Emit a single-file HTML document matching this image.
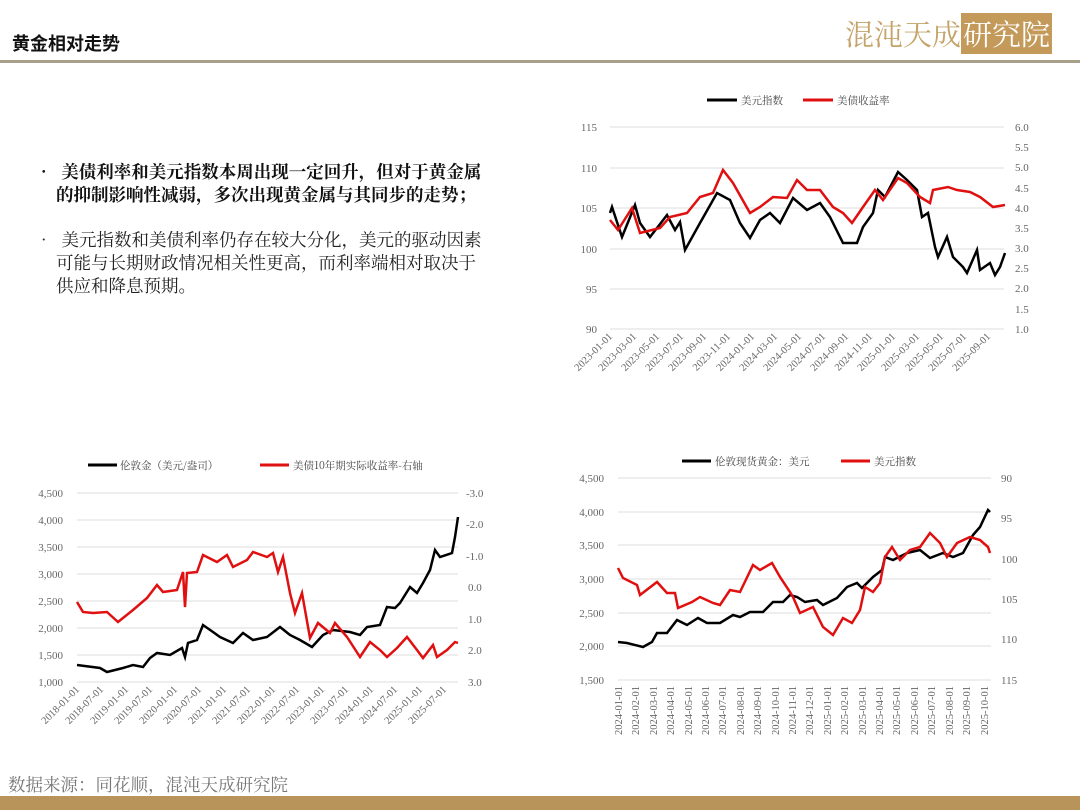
<!DOCTYPE html>
<html><head><meta charset="utf-8"><style>
body{margin:0;width:1080px;height:810px;background:#fff;position:relative;overflow:hidden;font-family:"Liberation Serif","Noto Serif CJK SC",serif;}
.t{position:absolute;white-space:nowrap}
</style></head><body>
<div class="t" style="left:12px;top:30px;font-size:18px;font-weight:bold;font-family:'Noto Sans CJK SC',sans-serif;color:#111">黄金相对走势</div>
<div class="t" style="left:845px;top:13px;font-size:29px;color:#c4a46a;letter-spacing:0px;font-family:'Noto Serif CJK SC',serif">混沌天成<span style="background:#c49a5a;color:#fff;padding:0 2px">研究院</span></div>
<div style="position:absolute;left:0;top:60px;width:1080px;height:3px;background:#a8a08a"></div>
<div class="t" style="left:35px;top:160px;font-size:17.5px;line-height:23px;color:#111;font-family:'Noto Serif CJK SC',serif;font-weight:bold">•&nbsp;&nbsp;美债利率和美元指数本周出现一定回升，但对于黄金属<br><span style="padding-left:21px">的抑制影响性减弱，多次出现黄金属与其同步的走势；</span></div>
<div class="t" style="left:35px;top:228px;font-size:17.5px;line-height:23px;color:#222;font-family:'Noto Serif CJK SC',serif">•&nbsp;&nbsp;美元指数和美债利率仍存在较大分化，美元的驱动因素<br><span style="padding-left:21px">可能与长期财政情况相关性更高，而利率端相对取决于</span><br><span style="padding-left:21px">供应和降息预期。</span></div>
<div class="t" style="left:8px;top:772px;font-size:17.5px;color:#777;font-family:'Noto Serif CJK SC',serif">数据来源：同花顺，混沌天成研究院</div>
<div style="position:absolute;left:0;top:796px;width:1080px;height:14px;background:#b8935a"></div>
<svg width="1080" height="810" style="position:absolute;left:0;top:0" font-family="Liberation Serif" font-size="11" fill="#666">
<!-- chart1 -->
<g stroke="#ddd"><line x1="610" x2="1004" y1="127" y2="127"/><line x1="610" x2="1004" y1="168" y2="168"/><line x1="610" x2="1004" y1="208" y2="208"/><line x1="610" x2="1004" y1="249" y2="249"/><line x1="610" x2="1004" y1="289" y2="289"/><line x1="610" x2="1004" y1="329" y2="329"/></g>
<g text-anchor="end"><text x="597" y="131">115</text><text x="597" y="172">110</text><text x="597" y="212">105</text><text x="597" y="253">100</text><text x="597" y="293">95</text><text x="597" y="333">90</text></g>
<g><text x="1015" y="131">6.0</text><text x="1015" y="151">5.5</text><text x="1015" y="171">5.0</text><text x="1015" y="192">4.5</text><text x="1015" y="212">4.0</text><text x="1015" y="232">3.5</text><text x="1015" y="252">3.0</text><text x="1015" y="272">2.5</text><text x="1015" y="292">2.0</text><text x="1015" y="313">1.5</text><text x="1015" y="333">1.0</text></g>
<g text-anchor="end" font-size="10.5">
<text transform="translate(613,337) rotate(-45)">2023-01-01</text><text transform="translate(637,337) rotate(-45)">2023-03-01</text><text transform="translate(660,337) rotate(-45)">2023-05-01</text><text transform="translate(684,337) rotate(-45)">2023-07-01</text><text transform="translate(707,337) rotate(-45)">2023-09-01</text><text transform="translate(731,337) rotate(-45)">2023-11-01</text><text transform="translate(755,337) rotate(-45)">2024-01-01</text><text transform="translate(778,337) rotate(-45)">2024-03-01</text><text transform="translate(802,337) rotate(-45)">2024-05-01</text><text transform="translate(826,337) rotate(-45)">2024-07-01</text><text transform="translate(849,337) rotate(-45)">2024-09-01</text><text transform="translate(873,337) rotate(-45)">2024-11-01</text><text transform="translate(896,337) rotate(-45)">2025-01-01</text><text transform="translate(920,337) rotate(-45)">2025-03-01</text><text transform="translate(944,337) rotate(-45)">2025-05-01</text><text transform="translate(967,337) rotate(-45)">2025-07-01</text><text transform="translate(991,337) rotate(-45)">2025-09-01</text></g>
<line x1="707" x2="737" y1="100" y2="100" stroke="#000" stroke-width="3"/><text x="741" y="104" font-family="Noto Serif CJK SC" font-size="10.5" fill="#444">美元指数</text>
<line x1="803" x2="833" y1="100" y2="100" stroke="#e01010" stroke-width="3"/><text x="837" y="104" font-family="Noto Serif CJK SC" font-size="10.5" fill="#444">美债收益率</text>
<polyline fill="none" stroke="#000" stroke-width="2.5" points="610,213 612,207 622,237 635,205 640,223 650,237 667,215 675,230 680,222 685,250 700,223 717,193 730,200 740,223 750,238 760,220 770,213 780,223 793,198 807,210 820,203 830,217 843,243 857,243 863,227 873,213 878,190 885,197 898,172 907,180 917,190 922,217 928,213 935,247 938,257 947,237 953,257 963,267 967,273 977,250 980,270 990,263 995,275 1000,267 1005,253"/>
<polyline fill="none" stroke="#e01010" stroke-width="2.5" points="610,220 618,230 632,208 640,233 660,228 670,217 687,213 700,197 713,193 723,170 733,183 750,213 760,207 773,197 787,198 797,180 807,190 820,190 833,207 843,213 852,223 863,207 875,190 883,200 898,178 907,183 920,197 930,203 933,190 948,187 957,190 970,192 980,197 993,207 1005,205"/>
<!-- chart2 -->
<g stroke="#ddd"><line x1="77" x2="458" y1="493" y2="493"/><line x1="77" x2="458" y1="520" y2="520"/><line x1="77" x2="458" y1="547" y2="547"/><line x1="77" x2="458" y1="574" y2="574"/><line x1="77" x2="458" y1="601" y2="601"/><line x1="77" x2="458" y1="628" y2="628"/><line x1="77" x2="458" y1="655" y2="655"/><line x1="77" x2="458" y1="682" y2="682"/></g>
<g text-anchor="end"><text x="63" y="497">4,500</text><text x="63" y="524">4,000</text><text x="63" y="551">3,500</text><text x="63" y="578">3,000</text><text x="63" y="605">2,500</text><text x="63" y="632">2,000</text><text x="63" y="659">1,500</text><text x="63" y="686">1,000</text></g>
<g><text x="466" y="497">-3.0</text><text x="466" y="528">-2.0</text><text x="466" y="560">-1.0</text><text x="468" y="591">0.0</text><text x="468" y="623">1.0</text><text x="468" y="654">2.0</text><text x="468" y="686">3.0</text></g>
<g text-anchor="end" font-size="10.5">
<text transform="translate(80,690) rotate(-45)">2018-01-01</text><text transform="translate(104,690) rotate(-45)">2018-07-01</text><text transform="translate(129,690) rotate(-45)">2019-01-01</text><text transform="translate(153,690) rotate(-45)">2019-07-01</text><text transform="translate(178,690) rotate(-45)">2020-01-01</text><text transform="translate(202,690) rotate(-45)">2020-07-01</text><text transform="translate(227,690) rotate(-45)">2021-01-01</text><text transform="translate(251,690) rotate(-45)">2021-07-01</text><text transform="translate(276,690) rotate(-45)">2022-01-01</text><text transform="translate(300,690) rotate(-45)">2022-07-01</text><text transform="translate(325,690) rotate(-45)">2023-01-01</text><text transform="translate(349,690) rotate(-45)">2023-07-01</text><text transform="translate(374,690) rotate(-45)">2024-01-01</text><text transform="translate(398,690) rotate(-45)">2024-07-01</text><text transform="translate(423,690) rotate(-45)">2025-01-01</text><text transform="translate(447,690) rotate(-45)">2025-07-01</text></g>
<line x1="88" x2="117" y1="465" y2="465" stroke="#000" stroke-width="3"/><text x="120" y="469" font-family="Noto Serif CJK SC" font-size="10.5" fill="#444">伦敦金（美元/盎司）</text>
<line x1="260" x2="289" y1="465" y2="465" stroke="#e01010" stroke-width="3"/><text x="293" y="469" font-family="Noto Serif CJK SC" font-size="10.5" fill="#444">美债10年期实际收益率-右轴</text>
<polyline fill="none" stroke="#000" stroke-width="2.5" points="77,665 100,668 107,672 123,668 133,665 143,667 150,658 157,653 170,655 182,648 185,657 188,643 197,640 203,625 213,632 220,637 233,643 243,633 253,640 267,637 280,627 290,635 300,640 312,647 323,635 333,630 350,632 360,635 367,627 380,625 387,607 395,608 400,603 410,587 417,593 423,583 430,570 435,550 440,557 452,553 455,537 458,517"/>
<polyline fill="none" stroke="#e01010" stroke-width="2.5" points="77,602 83,612 93,613 107,612 118,622 133,610 147,598 157,585 163,592 177,590 183,572 185,607 187,573 197,572 203,555 217,562 227,555 233,567 247,560 253,552 267,557 273,553 278,572 283,557 290,593 295,613 302,593 310,638 318,623 330,633 335,623 347,637 360,657 370,642 380,650 387,657 397,648 407,637 417,650 423,658 433,645 437,657 447,650 455,642 458,643"/>
<!-- chart3 -->
<g stroke="#ddd"><line x1="618" x2="991" y1="478" y2="478"/><line x1="618" x2="991" y1="512" y2="512"/><line x1="618" x2="991" y1="545" y2="545"/><line x1="618" x2="991" y1="579" y2="579"/><line x1="618" x2="991" y1="613" y2="613"/><line x1="618" x2="991" y1="646" y2="646"/><line x1="618" x2="991" y1="680" y2="680"/></g>
<g text-anchor="end"><text x="604" y="482">4,500</text><text x="604" y="516">4,000</text><text x="604" y="549">3,500</text><text x="604" y="583">3,000</text><text x="604" y="617">2,500</text><text x="604" y="650">2,000</text><text x="604" y="684">1,500</text></g>
<g><text x="1001" y="482">90</text><text x="1001" y="522">95</text><text x="1001" y="563">100</text><text x="1001" y="603">105</text><text x="1001" y="643">110</text><text x="1001" y="684">115</text></g>
<g text-anchor="end" font-size="10.5">
<text transform="translate(622,686) rotate(-90)">2024-01-01</text><text transform="translate(639,686) rotate(-90)">2024-02-01</text><text transform="translate(657,686) rotate(-90)">2024-03-01</text><text transform="translate(674,686) rotate(-90)">2024-04-01</text><text transform="translate(692,686) rotate(-90)">2024-05-01</text><text transform="translate(709,686) rotate(-90)">2024-06-01</text><text transform="translate(726,686) rotate(-90)">2024-07-01</text><text transform="translate(744,686) rotate(-90)">2024-08-01</text><text transform="translate(761,686) rotate(-90)">2024-09-01</text><text transform="translate(779,686) rotate(-90)">2024-10-01</text><text transform="translate(796,686) rotate(-90)">2024-11-01</text><text transform="translate(813,686) rotate(-90)">2024-12-01</text><text transform="translate(831,686) rotate(-90)">2025-01-01</text><text transform="translate(848,686) rotate(-90)">2025-02-01</text><text transform="translate(866,686) rotate(-90)">2025-03-01</text><text transform="translate(883,686) rotate(-90)">2025-04-01</text><text transform="translate(900,686) rotate(-90)">2025-05-01</text><text transform="translate(918,686) rotate(-90)">2025-06-01</text><text transform="translate(935,686) rotate(-90)">2025-07-01</text><text transform="translate(953,686) rotate(-90)">2025-08-01</text><text transform="translate(970,686) rotate(-90)">2025-09-01</text><text transform="translate(988,686) rotate(-90)">2025-10-01</text></g>
<line x1="682" x2="711" y1="461" y2="461" stroke="#000" stroke-width="3"/><text x="715" y="465" font-family="Noto Serif CJK SC" font-size="10.5" fill="#444">伦敦现货黄金：美元</text>
<line x1="841" x2="870" y1="461" y2="461" stroke="#e01010" stroke-width="3"/><text x="874" y="465" font-family="Noto Serif CJK SC" font-size="10.5" fill="#444">美元指数</text>
<polyline fill="none" stroke="#000" stroke-width="2.5" points="618,642 627,643 643,647 652,642 657,633 667,633 677,620 687,625 698,618 707,623 720,623 733,615 740,617 750,612 763,612 773,602 783,602 790,595 797,597 805,602 817,600 823,605 837,598 847,587 857,583 862,588 873,577 882,570 885,557 893,560 907,553 920,550 930,558 943,553 953,557 963,553 973,535 980,527 988,510 990,512"/>
<polyline fill="none" stroke="#e01010" stroke-width="2.5" points="618,568 623,578 637,585 640,595 657,582 667,593 675,593 678,608 692,602 700,597 713,603 720,605 730,590 740,592 753,565 760,570 772,563 780,577 790,592 793,597 800,613 813,607 823,627 833,635 843,618 852,623 860,610 865,587 873,592 880,583 885,557 892,547 900,560 910,550 920,547 930,533 940,543 947,557 957,543 970,537 980,540 988,547 990,553"/>
</svg>
</body></html>
